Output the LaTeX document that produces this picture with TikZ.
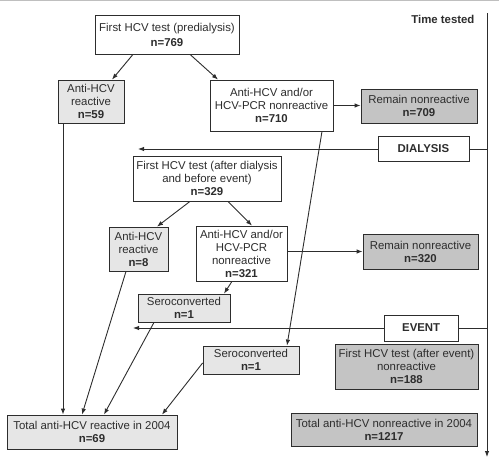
\documentclass[tikz,border=0pt]{standalone}
\usepackage{fontspec}
\setmainfont{Liberation Sans}
\usepackage{tikz}
\usetikzlibrary{arrows.meta,calc}
\definecolor{lightink}{RGB}{230,230,230}
\definecolor{darkink}{RGB}{196,196,196}
\definecolor{lineink}{RGB}{45,45,45}

\tikzset{
    box/.style={draw=lineink, fill=white, align=center, inner sep=0pt,
        text=lineink, line width=0.8pt},
    lightbox/.style={box, fill=lightink},
    darkbox/.style={box, fill=darkink},
    arr/.style={draw=lineink, line width=0.9pt, -{Latex[length=6pt,width=4.5pt]}}
}

\begin{document}
\begin{tikzpicture}[x=1pt, y=-1pt, font=\fontsize{11.4}{13}\selectfont]
    \useasboundingbox (0,0) rectangle (499,458);
    \draw[black!25, line width=1.2pt] (0,0.6) -- (499,0.6);

    % Time axis
    \coordinate (ttop) at (487,13);
    \coordinate (tbot) at (487,457);
    \draw[arr] (ttop) -- (tbot);
    \node[anchor=east, font=\fontsize{11.4}{13}\selectfont\bfseries, text=lineink] (timelabel) at (478,19) {Time tested};

    % Dialysis and event
    \coordinate (dialend) at (138,149);
    \coordinate (eventend) at (133,328);
    \draw[arr] (ttop |- dialend) -- node[box, pos=0.182, minimum width=91pt, minimum height=25pt, font=\fontsize{11.4}{13}\selectfont\bfseries] (dialysis) {DIALYSIS} (dialend);
    \draw[arr] (ttop |- eventend) -- node[box, pos=0.186, minimum width=74pt, minimum height=26pt, font=\fontsize{11.4}{13}\selectfont\bfseries] (event) {EVENT} (eventend);

    % Predialysis
    \node[box, minimum width=144pt, minimum height=39pt] (first) at (167,34.5)
        {First HCV test (predialysis)\\[2pt]\textbf{n=769}};
    \node[lightbox, minimum width=66pt, minimum height=43pt] (react1) at (91,101.5)
        {Anti-HCV\\reactive\\\textbf{n=59}};
    \node[box, minimum width=123pt, minimum height=51pt] (nonreact1) at (271.5,105.5)
        {Anti-HCV and/or\\HCV-PCR nonreactive\\\textbf{n=710}};
    \node[darkbox, minimum width=116pt, minimum height=34pt] (remain1) at (419,106)
        {Remain nonreactive\\\textbf{n=709}};

    % After dialysis
    \node[box, minimum width=148pt, minimum height=45pt] (second) at (207,178.5)
        {First HCV test (after dialysis\\and before event)\\\textbf{n=329}};
    \node[lightbox, minimum width=59pt, minimum height=44pt] (react2) at (138.5,249)
        {Anti-HCV\\reactive\\\textbf{n=8}};
    \node[box, minimum width=91pt, minimum height=55pt] (nonreact2) at (241.5,253.5)
        {Anti-HCV and/or\\HCV-PCR\\nonreactive\\\textbf{n=321}};
    \node[darkbox, minimum width=115pt, minimum height=35pt] (remain2) at (420.5,251.5)
        {Remain nonreactive\\\textbf{n=320}};
    \node[lightbox, minimum width=92pt, minimum height=28pt] (sero1) at (184,308)
        {Seroconverted\\\textbf{n=1}};

    % After event
    \node[lightbox, minimum width=96pt, minimum height=28pt] (sero2) at (251,360)
        {Seroconverted\\\textbf{n=1}};
    \node[darkbox, minimum width=143pt, minimum height=45pt] (afterevent) at (406.5,366.5)
        {First HCV test (after event)\\nonreactive\\\textbf{n=188}};

    % Totals
    \node[lightbox, minimum width=170pt, minimum height=34pt] (totalreact) at (92,432)
        {Total anti-HCV reactive in 2004\\\textbf{n=69}};
    \node[darkbox, minimum width=186pt, minimum height=33pt] (totalnon) at (384,429.5)
        {Total anti-HCV nonreactive in 2004\\\textbf{n=1217}};

    % Connectors
    \draw[arr] ([xshift=-34pt]first.south) -- ([xshift=21pt]react1.north);
    \draw[arr] ([xshift=23pt]first.south) -- ([xshift=-53.5pt]nonreact1.north);
    \draw[arr] (nonreact1.east) -- (nonreact1.east -| remain1.west);
    \draw[arr] ([xshift=-28pt]react1.south) -- ([xshift=-28pt]react1.south |- totalreact.north);
    \draw[arr] ([xshift=50.5pt]nonreact1.south) -- ([xshift=36pt]sero2.north);
    \draw[arr] ([xshift=-17pt]second.south) -- ([xshift=18.5pt]react2.north);
    \draw[arr] ([xshift=21pt]second.south) -- ([xshift=10.5pt]nonreact2.north);
    \draw[arr] (remain2.west -| nonreact2.east) -- (remain2.west);
    \draw[arr] ([xshift=-9.5pt]nonreact2.south) -- ([xshift=40pt]sero1.north);
    \draw[arr] ([xshift=-12.5pt]react2.south) -- ([xshift=-10pt]totalreact.north);
    \draw[arr] ([xshift=-30pt]sero1.south) -- ([xshift=12pt]totalreact.north);
    \draw[arr] ([yshift=-3pt]sero2.west) -- ([xshift=70pt]totalreact.north);
\end{tikzpicture}
\end{document}
